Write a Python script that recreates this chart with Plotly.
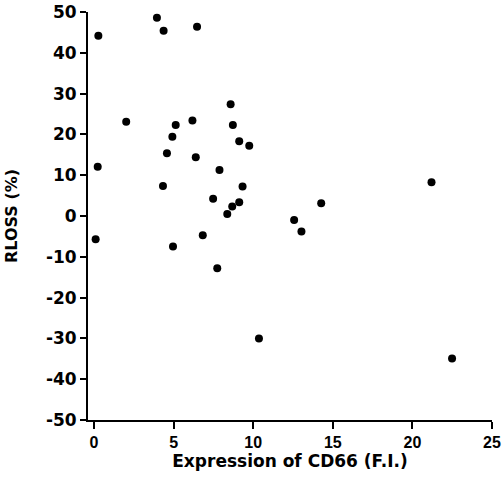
import plotly.graph_objects as go

# CD66 expression (F.I.) and RLOSS (%)
cd66 = [0.27, 3.95, 4.37, 6.47, 2.02, 0.23, 8.58, 8.72, 5.13, 6.18, 4.92, 4.58,
        6.39, 9.12, 9.75, 7.88, 4.33, 9.33, 7.48, 9.12, 8.68, 8.37, 0.10, 6.83,
        4.96, 21.2, 14.27, 12.57, 13.03, 7.74, 10.36, 22.49]
rloss = [44.2, 48.6, 45.4, 46.4, 23.1, 12.1, 27.4, 22.3, 22.3, 23.4, 19.4, 15.4,
         14.4, 18.3, 17.2, 11.3, 7.35, 7.2, 4.2, 3.4, 2.3, 0.5, -5.7, -4.7,
         -7.5, 8.3, 3.1, -1.0, -3.8, -12.8, -30.0, -34.9]

x_ticks = [0, 5, 10, 15, 20, 25]
x_ticktext = ["0", "5", "10", "15", "20", "25"]
y_ticks = [50, 40, 30, 20, 10, 0, -10, -20, -30, -40, -50]
y_ticktext = ["50", "40", "30", "20", "10", "0", "-10", "-20", "-30", "-40", "-50"]

fig = go.Figure()
fig.add_trace(go.Scatter(
    x=cd66, y=rloss, mode="markers",
    marker=dict(color="black", size=8, line=dict(width=0)),
    showlegend=False, cliponaxis=False,
))

fig.update_layout(
    width=503, height=490,
    margin=dict(l=88, r=11, t=12, b=70),
    paper_bgcolor="white", plot_bgcolor="white",
    font=dict(family="DejaVu Sans", color="black", size=13),
    xaxis=dict(
        range=[-0.38, 25], tickvals=x_ticks, ticktext=x_ticktext,
        automargin=False,
        showgrid=False, zeroline=False,
        showline=True, linecolor="black", linewidth=2,
        ticks="outside", ticklen=7, tickwidth=2, tickcolor="black",
        tickfont=dict(size=16, family="Liberation Sans", weight="bold", color="black"),
        title=dict(text="Expression of CD66 (F.I.)",
                   font=dict(size=17, family="DejaVu Sans", weight="bold", color="black"),
                   standoff=3),
    ),
    yaxis=dict(
        range=[-50, 50], tickvals=y_ticks, ticktext=y_ticktext,
        automargin=False,
        showgrid=False, zeroline=False,
        showline=True, linecolor="black", linewidth=2,
        ticks="outside", ticklen=6, tickwidth=2, tickcolor="black",
        tickfont=dict(size=17, family="DejaVu Sans", weight="bold", color="black"),
        title=dict(text="RLOSS (%)",
                   font=dict(size=16, family="DejaVu Sans", weight="bold", color="black"),
                   standoff=24),
    ),
)

fig.write_html("out.html",
               config={"displayModeBar": False},
               post_script="document.body.style.margin='0';document.body.style.overflow='hidden';")
